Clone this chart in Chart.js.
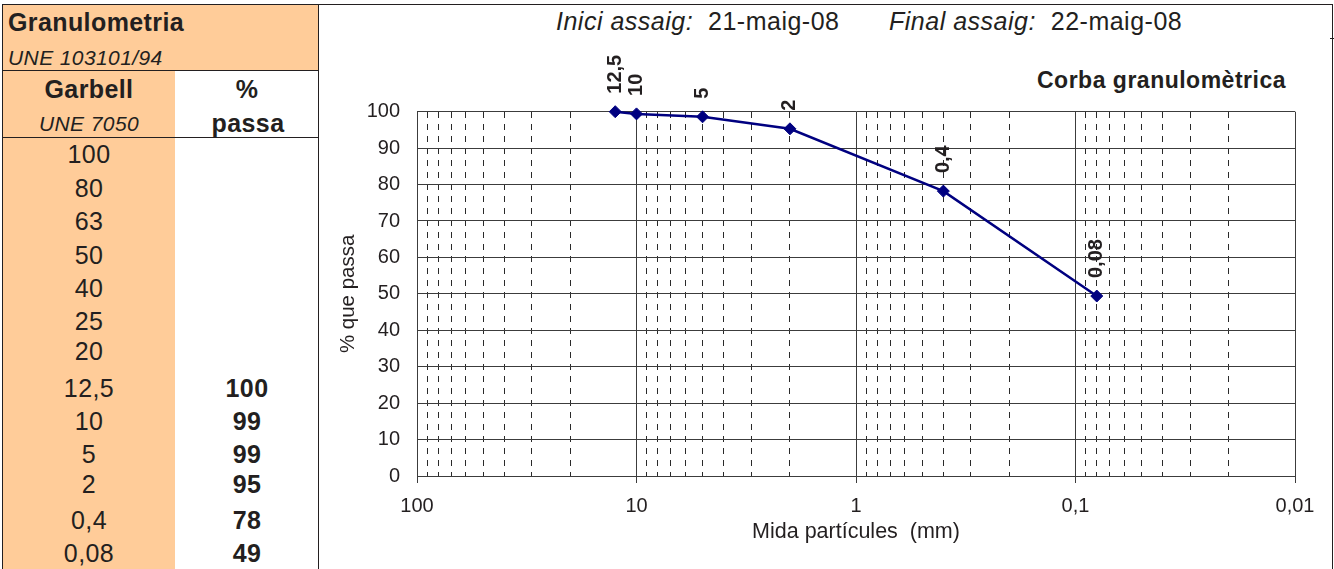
<!DOCTYPE html>
<html><head><meta charset="utf-8">
<script src="https://cdn.jsdelivr.net/npm/chart.js@4.4.1/dist/chart.umd.min.js"></script>
<style>
html,body{margin:0;padding:0;background:#fff;}
body{width:1334px;height:569px;position:relative;overflow:hidden;font-family:"Liberation Sans",Arial,sans-serif;color:#231f20;}
.box{position:absolute;}
.ln{position:absolute;background:#231f20;}
.t{position:absolute;white-space:pre;line-height:1;transform:translateY(-50%);letter-spacing:0.4px;}
.c{transform:translate(-50%,-50%);}
#wrap{position:absolute;left:320px;top:40px;width:1011px;height:529px;}
</style></head><body>
<div class="box" style="left:3px;top:4px;width:315px;height:66px;background:#ffcc99"></div>
<div class="box" style="left:3px;top:70px;width:172px;height:499px;background:#ffcc99"></div>
<div class="ln" style="left:2px;top:4px;width:1331px;height:1px"></div>
<div class="ln" style="left:2px;top:4px;width:1px;height:565px"></div>
<div class="ln" style="left:318px;top:4px;width:1px;height:565px"></div>
<div class="ln" style="left:1332px;top:4px;width:1px;height:565px"></div>
<div class="ln" style="left:1330px;top:38px;width:4px;height:1px"></div>
<div class="ln" style="left:3px;top:70px;width:315px;height:1px"></div>
<div class="ln" style="left:3px;top:137px;width:315px;height:1px"></div>

<div class="t" style="left:8px;top:22px;font-size:25px;font-weight:bold">Granulometria</div>
<div class="t" style="left:8px;top:57px;font-size:21px;font-style:italic">UNE 103101/94</div>
<div class="t c" style="left:89px;top:89px;font-size:25px;font-weight:bold">Garbell</div>
<div class="t c" style="left:247px;top:89px;font-size:25px;font-weight:bold">%</div>
<div class="t c" style="left:89px;top:123px;font-size:21px;font-style:italic">UNE 7050</div>
<div class="t c" style="left:248px;top:123px;font-size:25px;font-weight:bold">passa</div>
<div id="rows"></div>

<div class="t" style="left:556px;top:21px;font-size:25px;letter-spacing:0.5px"><i>Inici assaig:</i>  21-maig-08</div>
<div class="t" style="left:889px;top:21px;font-size:25px;letter-spacing:0.5px"><i>Final assaig:</i>  22-maig-08</div>
<div class="t" style="right:48px;top:80px;font-size:23px;font-weight:bold;letter-spacing:0.5px">Corba granulomètrica</div>

<div id="wrap"><canvas id="chart" width="1011" height="529"></canvas></div>

<script>
// ---- data ----
const tableSieves = ['100','80','63','50','40','25','20','12,5','10','5','2','0,4','0,08'];
const tablePass   = ['','','','','','','','100','99','99','95','78','49'];
const sieveSizes  = [12.5, 10, 5, 2, 0.4, 0.08];
const sieveLabels = ['12,5','10','5','2','0,4','0,08'];
const passPercent = [100, 99.4, 98.6, 95.3, 78.2, 49.4];
const xTickValues = [100, 10, 1, 0.1, 0.01];
const xTickLabels = ['100','10','1','0,1','0,01'];

// ---- layout of the table rows ----
const rowCenters = [154,188,221,254.5,288,321,351,387.5,420.5,454,484,520,552.5];
const rows = document.getElementById('rows');
tableSieves.forEach((s,i)=>{
  const a=document.createElement('div'); a.className='t c';
  a.style.cssText=`left:89px;top:${rowCenters[i]}px;font-size:25px`; a.textContent=s; rows.appendChild(a);
  if(tablePass[i]){
    const b=document.createElement('div'); b.className='t c';
    b.style.cssText=`left:247px;top:${rowCenters[i]}px;font-size:25px;font-weight:bold`; b.textContent=tablePass[i]; rows.appendChild(b);
  }
});

// minor grid positions (2..9 of each decade)
const minorGrid=[];
for(const d of [0.01,0.1,1,10]) for(let m=2;m<=9;m++) minorGrid.push(+(m*d).toPrecision(3));

const FAM='"Liberation Sans", Arial, sans-serif';
const INK='#231f20';
const GRID='#3c3c3c';

const labelPlugin={
  id:'rotLabels',
  afterDatasetsDraw(chart){
    const ctx=chart.ctx, meta=chart.getDatasetMeta(0);
    ctx.save();
    ctx.font='bold 20px '+FAM; ctx.fillStyle=INK;
    ctx.textAlign='left'; ctx.textBaseline='middle';
    meta.data.forEach((pt,i)=>{
      ctx.save(); ctx.translate(pt.x, pt.y-18); ctx.rotate(-Math.PI/2);
      ctx.fillText(sieveLabels[i],0,0); ctx.restore();
    });
    ctx.restore();
  }
};

new Chart(document.getElementById('chart'),{
  type:'line',
  data:{datasets:[{
    data: sieveSizes.map((s,i)=>({x:s,y:passPercent[i]})),
    xAxisID:'x', yAxisID:'y',
    borderColor:'#000080', backgroundColor:'#000080', borderWidth:2.5,
    pointStyle:'rectRot', pointRadius:6, pointHoverRadius:6, pointBorderWidth:1,
    tension:0, clip:false
  }]},
  options:{
    responsive:false, animation:false, devicePixelRatio:1,
    layout:{padding:{left:0,right:36,top:71.7,bottom:0}},
    plugins:{legend:{display:false}, tooltip:{enabled:false}},
    scales:{
      x:{
        type:'logarithmic', position:'bottom', min:0.01, max:100, reverse:true,
        afterBuildTicks:s=>{s.ticks=xTickValues.map(v=>({value:v}));},
        ticks:{autoSkip:false, maxRotation:0, padding:11, color:INK, font:{size:20,family:FAM},
               callback:(v,i)=>xTickLabels[i]},
        grid:{color:GRID, lineWidth:1, tickLength:7, tickColor:GRID},
        border:{display:true,color:GRID},
        title:{display:true, text:'Mida partícules  (mm)', color:INK, font:{size:21.5,family:FAM}, padding:{top:0,bottom:24}},
        afterFit:s=>{s.height=93;}
      },
      x2:{
        type:'logarithmic', position:'top', min:0.01, max:100, reverse:true,
        afterBuildTicks:s=>{s.ticks=minorGrid.map(v=>({value:v}));},
        ticks:{display:false},
        grid:{color:'#2a2a2a', lineWidth:1, drawTicks:false},
        border:{display:false, dash:[6,6]},
        afterFit:s=>{s.height=0;}
      },
      y:{
        min:0, max:100,
        ticks:{stepSize:10, padding:17, color:INK, font:{size:20,family:FAM}},
        grid:{color:GRID, lineWidth:1, drawTicks:false},
        border:{display:true,color:GRID},
        title:{display:true, text:'% que passa', color:INK, font:{size:20.5,family:FAM}, padding:{top:16,bottom:0}},
        afterFit:s=>{s.width=97;}
      }
    }
  },
  plugins:[labelPlugin]
});
</script>
</body></html>
